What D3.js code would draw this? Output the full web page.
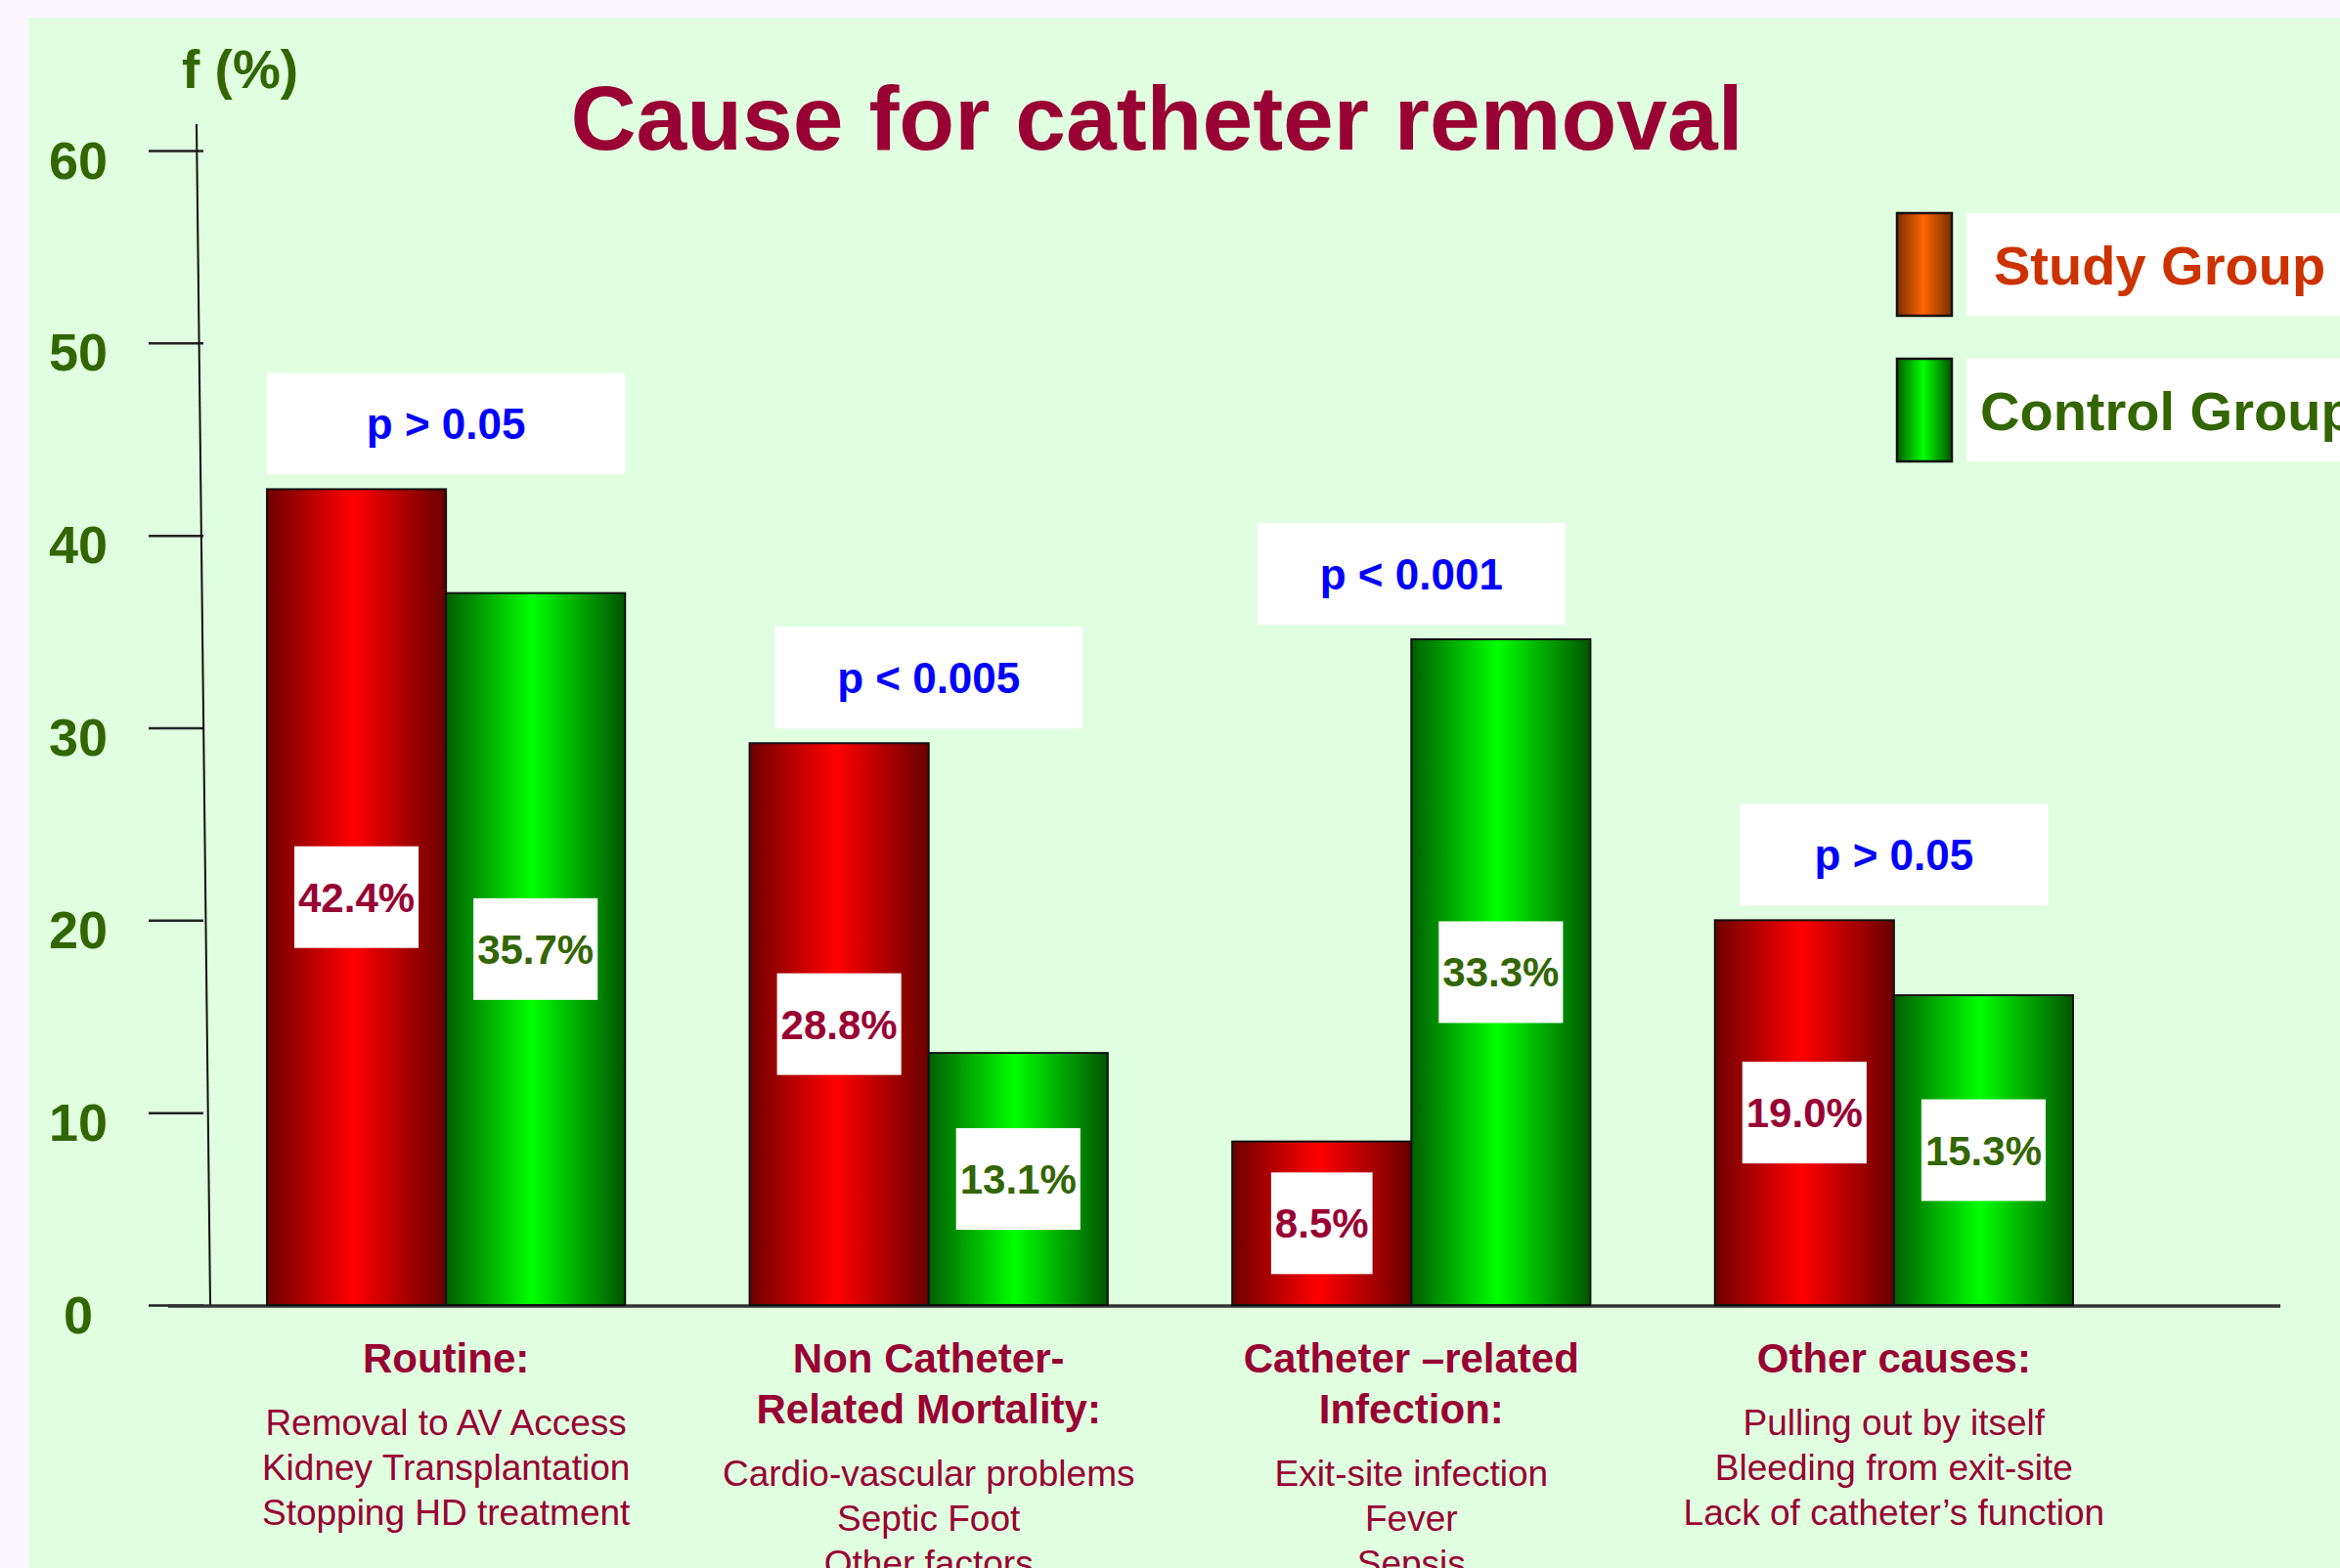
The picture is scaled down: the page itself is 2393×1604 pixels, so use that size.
<!DOCTYPE html>
<html>
<head>
<meta charset="utf-8">
<script src="https://cdn.jsdelivr.net/npm/d3@7"></script>
<style>
  html, body { margin: 0; padding: 0; background: #fcf6ff; overflow: hidden; }
  text { font-family: "Liberation Sans", Arial, sans-serif; }
</style>
</head>
<body>
<svg id="chart" width="2393" height="1604"></svg>
<script>
// categories and their two-part labels under the axis
const categories = ["Routine", "Non Catheter-Related Mortality", "Catheter-related Infection", "Other causes"];
const headings = [
    ["Routine:"],
    ["Non Catheter-", "Related Mortality:"],
    ["Catheter \u2013related", "Infection:"],
    ["Other causes:"]
];
const details = [
    ["Removal to AV Access", "Kidney Transplantation", "Stopping HD treatment"],
    ["Cardio-vascular problems", "Septic Foot", "Other factors"],
    ["Exit-site infection", "Fever", "Sepsis"],
    ["Pulling out by itself", "Bleeding from exit-site", "Lack of catheter\u2019s function"]
];

// bar heights as drawn against the axis (the slide's bars don't match its own labels exactly)
const studyValues = [42.4, 29.2, 8.5, 20.0];
const controlValues = [37.0, 13.1, 34.6, 16.1];
// printed labels
const studyLabels = ["42.4%", "28.8%", "8.5%", "19.0%"];
const controlLabels = ["35.7%", "13.1%", "33.3%", "15.3%"];
const pValues = ["p > 0.05", "p < 0.005", "p < 0.001", "p > 0.05"];

const series = ["Study Group", "Control Group"];
const yTicks = [0, 10, 20, 30, 40, 50, 60];

const W = 2393, H = 1604;
const svg = d3.select("#chart");
const crimson = "#990033", darkGreen = "#336600";

// panel background
svg.append("rect").attr("x", 29).attr("y", 18).attr("width", W).attr("height", H)
    .attr("fill", "#e0ffe0");

// gradients
const defs = svg.append("defs");
function grad(id, edgeL, mid, edgeR) {
    const g = defs.append("linearGradient").attr("id", id)
        .attr("x1", "0%").attr("x2", "100%").attr("y1", "0%").attr("y2", "0%");
    g.append("stop").attr("offset", "0%").attr("stop-color", edgeL);
    g.append("stop").attr("offset", "48%").attr("stop-color", mid);
    g.append("stop").attr("offset", "100%").attr("stop-color", edgeR);
}
grad("gRed", "#6e0000", "#ff0000", "#680000");
grad("gGreen", "#005f00", "#00ff00", "#005500");
grad("gOrange", "#7a2e00", "#ff6600", "#7a2e00");

// scales
const y = d3.scaleLinear().domain([0, 60]).range([1335, 154]);
const x = d3.scaleBand().domain(categories).range([273, 2120]).paddingInner(0.258).paddingOuter(0);
const xs = d3.scaleBand().domain(series).range([0, x.bandwidth()]);

// title
svg.append("text").attr("x", 1183).attr("y", 153)
    .attr("text-anchor", "middle").attr("font-size", 93).attr("font-weight", "bold")
    .attr("fill", crimson).text("Cause for catheter removal");

// y axis label
svg.append("text").attr("x", 186).attr("y", 90)
    .attr("font-size", 55).attr("font-weight", "bold").attr("fill", darkGreen).text("f (%)");

// y axis
const yAxis = svg.append("g").attr("transform", "translate(208,0)")
    .call(d3.axisLeft(y).tickValues(yTicks).tickSize(56).tickPadding(0));
yAxis.select(".domain").remove();
yAxis.selectAll(".tick line").attr("stroke", "#222").attr("stroke-width", 2.5);
yAxis.selectAll(".tick text")
    .attr("x", -128).attr("dy", null).attr("y", 28)
    .attr("text-anchor", "middle").attr("font-size", 54).attr("font-weight", "bold")
    .attr("font-family", "\"Liberation Sans\", Arial, sans-serif")
    .attr("fill", darkGreen);
// slightly slanted vertical axis line, as on the slide
svg.append("line").attr("x1", 201).attr("y1", 127).attr("x2", 215).attr("y2", y(0))
    .attr("stroke", "#111").attr("stroke-width", 2);

// baseline
svg.append("line").attr("x1", 172).attr("x2", 2332).attr("y1", y(0) + 1).attr("y2", y(0) + 1)
    .attr("stroke", "#333").attr("stroke-width", 3.5);

// bars
const groups = svg.selectAll("g.grp").data(categories).enter().append("g")
    .attr("class", "grp").attr("transform", d => `translate(${x(d)},0)`);

const barData = (d, i) => [
    { s: series[0], v: studyValues[i], lab: studyLabels[i], fill: "url(#gRed)", col: crimson },
    { s: series[1], v: controlValues[i], lab: controlLabels[i], fill: "url(#gGreen)", col: darkGreen }
];

groups.each(function (d, i) {
    const g = d3.select(this);
    const bars = barData(d, i);
    g.selectAll("rect.bar").data(bars).enter().append("rect")
        .attr("class", "bar")
        .attr("x", b => xs(b.s))
        .attr("width", xs.bandwidth())
        .attr("y", b => y(b.v))
        .attr("height", b => y(0) - y(b.v))
        .attr("fill", b => b.fill)
        .attr("stroke", "#111").attr("stroke-width", 2);

    // value labels in white boxes, mid-bar
    bars.forEach(b => {
        const cx = xs(b.s) + xs.bandwidth() / 2;
        const cy = (y(b.v) + y(0)) / 2;
        const t = g.append("text").attr("x", cx).attr("y", cy + 15)
            .attr("text-anchor", "middle").attr("font-size", 42).attr("font-weight", "bold")
            .attr("fill", b.col).text(b.lab);
        const w = t.node().getComputedTextLength() + 8;
        g.insert("rect", function () { return t.node(); })
            .attr("x", cx - w / 2).attr("y", cy - 52).attr("width", w).attr("height", 104)
            .attr("fill", "#fff");
    });

    // p-value box above the taller bar
    const top = y(Math.max(studyValues[i], controlValues[i])) - 15;
    const pw = i === 0 ? 366 : 315;
    g.append("rect").attr("x", x.bandwidth() / 2 - pw / 2).attr("y", top - 104)
        .attr("width", pw).attr("height", 104).attr("fill", "#fff");
    g.append("text").attr("x", x.bandwidth() / 2).attr("y", top - 52 + 16)
        .attr("text-anchor", "middle").attr("font-size", 44).attr("font-weight", "bold")
        .attr("fill", "#0000ff").text(pValues[i]);

    // category labels under the axis
    const cx = x.bandwidth() / 2;
    headings[i].forEach((line, k) => {
        g.append("text").attr("x", cx).attr("y", 1404 + k * 52)
            .attr("text-anchor", "middle").attr("font-size", 42).attr("font-weight", "bold")
            .attr("fill", crimson).text(line);
    });
    const start = 1404 + (headings[i].length - 1) * 52 + 64;
    details[i].forEach((line, k) => {
        g.append("text").attr("x", cx).attr("y", start + k * 46)
            .attr("text-anchor", "middle").attr("font-size", 37)
            .attr("fill", crimson).text(line);
    });
});

// legend
const legend = [
    { name: series[0], fill: "url(#gOrange)", col: "#cc3300", y: 218, tx: 2039 },
    { name: series[1], fill: "url(#gGreen)", col: darkGreen, y: 367, tx: 2025 }
];
legend.forEach(l => {
    svg.append("rect").attr("x", 1940).attr("y", l.y).attr("width", 56).attr("height", 105)
        .attr("fill", l.fill).attr("stroke", "#111").attr("stroke-width", 2.5);
    svg.append("rect").attr("x", 2011).attr("y", l.y).attr("width", 400).attr("height", 105)
        .attr("fill", "#fff");
    svg.append("text").attr("x", l.tx).attr("y", l.y + 73)
        .attr("font-size", 56).attr("font-weight", "bold").attr("fill", l.col).text(l.name);
});
</script>
</body>
</html>
